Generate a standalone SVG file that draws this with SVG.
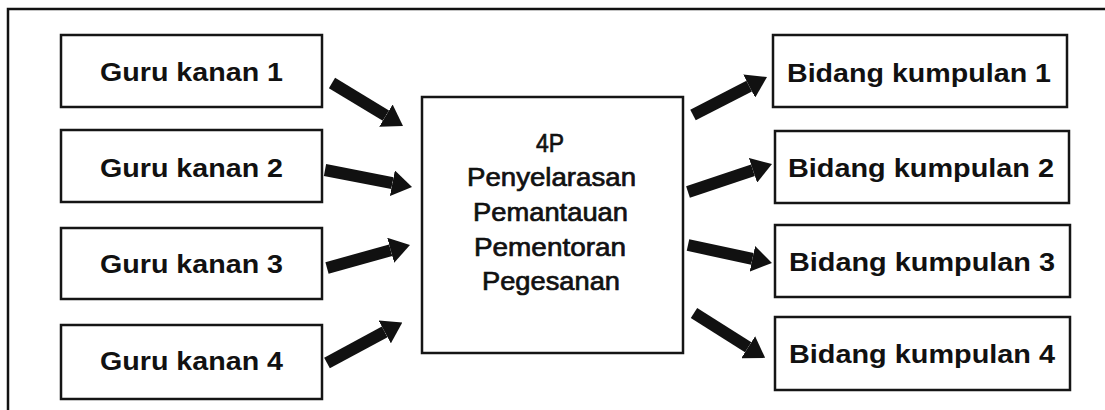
<svg xmlns="http://www.w3.org/2000/svg" width="1105" height="410" viewBox="0 0 1105 410">
  <defs>
    <marker id="head" viewBox="0 0 20 26" markerWidth="20" markerHeight="26" markerUnits="userSpaceOnUse" refX="0" refY="13" orient="auto">
      <path d="M0,0 L20,13 L0,26 Z" fill="#111"/>
    </marker>
    <style>
      .box { fill: #fff; stroke: #151515; stroke-width: 2.5; }
      .lbl { font-family: "Liberation Sans", Arial, sans-serif; font-weight: bold; font-size: 26px; fill: #111; text-anchor: middle; }
      .ctr { font-family: "Liberation Sans", Arial, sans-serif; font-size: 26px; fill: #111; stroke: #111; stroke-width: 0.7; text-anchor: middle; }
      .arr { stroke: #111; stroke-width: 12; fill: none; stroke-linecap: butt; marker-end: url(#head); }
      .frame { stroke: #111; stroke-width: 2.5; fill: none; }
    </style>
  </defs>
  <rect width="1105" height="410" fill="#fff"/>
  <g id="frame">
    <path class="frame" d="M8,410 L8,9 L1105,9"/>
  </g>
  <g id="guru1">
    <rect class="box" x="61" y="35" width="261" height="72"/>
    <text class="lbl" x="191.5" y="81" textLength="183" lengthAdjust="spacingAndGlyphs">Guru kanan 1</text>
  </g>
  <g id="guru2">
    <rect class="box" x="61" y="130" width="261" height="72"/>
    <text class="lbl" x="191.5" y="177" textLength="183" lengthAdjust="spacingAndGlyphs">Guru kanan 2</text>
  </g>
  <g id="guru3">
    <rect class="box" x="61" y="228" width="261" height="71"/>
    <text class="lbl" x="191.5" y="273" textLength="183" lengthAdjust="spacingAndGlyphs">Guru kanan 3</text>
  </g>
  <g id="guru4">
    <rect class="box" x="61" y="325" width="261" height="74"/>
    <text class="lbl" x="191.5" y="370" textLength="183" lengthAdjust="spacingAndGlyphs">Guru kanan 4</text>
  </g>
  <g id="center">
    <rect class="box" x="422" y="97" width="261" height="256"/>
    <text class="ctr" x="550" y="152" textLength="28" lengthAdjust="spacingAndGlyphs">4P</text>
    <text class="ctr" x="551.5" y="186" textLength="169" lengthAdjust="spacingAndGlyphs">Penyelarasan</text>
    <text class="ctr" x="550.5" y="221" textLength="155" lengthAdjust="spacingAndGlyphs">Pemantauan</text>
    <text class="ctr" x="550" y="256" textLength="152" lengthAdjust="spacingAndGlyphs">Pementoran</text>
    <text class="ctr" x="551" y="290" textLength="138" lengthAdjust="spacingAndGlyphs">Pegesanan</text>
  </g>
  <g id="bidang1">
    <rect class="box" x="773" y="35" width="294" height="72"/>
    <text class="lbl" x="919" y="82" textLength="264" lengthAdjust="spacingAndGlyphs">Bidang kumpulan 1</text>
  </g>
  <g id="bidang2">
    <rect class="box" x="775" y="131" width="294" height="72"/>
    <text class="lbl" x="921" y="177" textLength="266" lengthAdjust="spacingAndGlyphs">Bidang kumpulan 2</text>
  </g>
  <g id="bidang3">
    <rect class="box" x="775" y="225" width="295" height="72"/>
    <text class="lbl" x="922" y="271" textLength="266" lengthAdjust="spacingAndGlyphs">Bidang kumpulan 3</text>
  </g>
  <g id="bidang4">
    <rect class="box" x="775" y="317" width="295" height="73"/>
    <text class="lbl" x="922" y="363" textLength="266" lengthAdjust="spacingAndGlyphs">Bidang kumpulan 4</text>
  </g>
  <g id="connectors">
    <line class="arr" x1="332" y1="83" x2="385.9" y2="115.6"/>
    <line class="arr" x1="325" y1="170" x2="392.4" y2="183.2"/>
    <line class="arr" x1="327" y1="268" x2="390.7" y2="250.3"/>
    <line class="arr" x1="327" y1="363" x2="384.7" y2="331.9"/>
    <line class="arr" x1="693" y1="115" x2="749.2" y2="86.1"/>
    <line class="arr" x1="688" y1="192" x2="753" y2="170.3"/>
    <line class="arr" x1="688" y1="245" x2="752.4" y2="258.8"/>
    <line class="arr" x1="694" y1="313" x2="748.2" y2="347.2"/>
  </g>
</svg>
